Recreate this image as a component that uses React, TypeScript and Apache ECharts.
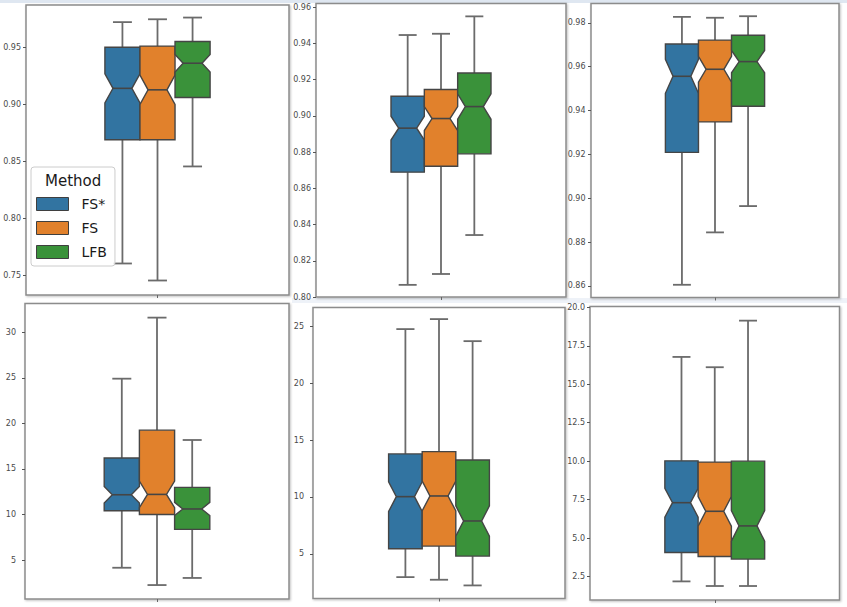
import React, { useEffect, useRef } from 'react';
import * as echarts from 'echarts';

const METHODS = ['FS*', 'FS', 'LFB'];
const COLORS = ['#3274a1', '#e1812c', '#3a923a'];
const CATEGORY = [''];

// each row: [lower whisker, Q1, median, Q3, upper whisker] for FS*, FS, LFB
const PANEL1 = [
  [0.7606, 0.869, 0.914, 0.95, 0.972],
  [0.7457, 0.869, 0.9127, 0.951, 0.9745],
  [0.8456, 0.906, 0.936, 0.955, 0.976],
];
const PANEL2 = [
  [0.8067, 0.8689, 0.8932, 0.9108, 0.9446],
  [0.8127, 0.8722, 0.8985, 0.9145, 0.9453],
  [0.8342, 0.879, 0.9051, 0.9236, 0.9549],
];
const PANEL3 = [
  [0.8605, 0.9209, 0.9556, 0.9703, 0.9827],
  [0.8844, 0.9348, 0.9588, 0.9721, 0.9823],
  [0.8964, 0.9419, 0.9623, 0.9743, 0.983],
];
const PANEL4 = [
  [4.15, 10.4, 12.16, 16.2, 24.9],
  [2.25, 10.0, 12.2, 19.25, 31.6],
  [3.03, 8.36, 10.6, 12.97, 18.17],
];
const PANEL5 = [
  [2.95, 5.45, 10.03, 13.79, 24.77],
  [2.72, 5.68, 10.09, 13.99, 25.65],
  [2.22, 4.8, 7.89, 13.26, 23.71],
];
const PANEL6 = [
  [2.18, 4.06, 7.3, 10.02, 16.78],
  [1.88, 3.8, 6.74, 9.94, 16.11],
  [1.88, 3.63, 5.79, 10.0, 19.14],
];

const TICKS1 = [0.75, 0.8, 0.85, 0.9, 0.95];
const TICKS2 = [0.8, 0.82, 0.84, 0.86, 0.88, 0.9, 0.92, 0.94, 0.96];
const TICKS3 = [0.86, 0.88, 0.9, 0.92, 0.94, 0.96, 0.98];
const TICKS4 = [5, 10, 15, 20, 25, 30];
const TICKS5 = [5, 10, 15, 20, 25];
const TICKS6 = [2.5, 5, 7.5, 10, 12.5, 15, 17.5, 20];

const Y_MIN = [0.733, 0.8, 0.8547, 0.72, 1.07, 0.97];
const Y_MAX = [0.987, 0.962, 0.9888, 33.15, 26.67, 20.06];
const DECIMALS = [2, 2, 2, 0, 0, 1];

const N_SAMPLES = 100;

export default function App() {
  const ref = useRef<HTMLDivElement>(null);

  useEffect(() => {
    document.body.style.margin = '0';
    const chart = echarts.init(ref.current!, null, { renderer: 'svg' });

    const datasets = [PANEL1, PANEL2, PANEL3, PANEL4, PANEL5, PANEL6];
    const ticks = [TICKS1, TICKS2, TICKS3, TICKS4, TICKS5, TICKS6];
    const grids = [
      { left: 26, top: 5, width: 263, height: 290 },
      { left: 316, top: 3.5, width: 250, height: 293.5 },
      { left: 591, top: 3.5, width: 248, height: 294 },
      { left: 25, top: 303.5, width: 264, height: 295.5 },
      { left: 313, top: 307.5, width: 252, height: 291 },
      { left: 590, top: 306.5, width: 249.5, height: 293.5 },
    ];
    const margins = [5, 5, 5.5, 9, 9, 5];
    const BOX_FRAC = 0.4 / 3;

    const makeRender = (m: number) => (params: any, api: any) => {
      const cat = api.value(0);
      const lo = api.value(1);
      const q1 = api.value(2);
      const med = api.value(3);
      const q3 = api.value(4);
      const hi = api.value(5);
      const band = api.size([1, 0])[0];
      const bw = band * BOX_FRAC;
      const cx = api.coord([cat, med])[0] + (m - 1) * bw;
      const y = (v: number) => api.coord([cat, v])[1];
      const half = (1.57 * (q3 - q1)) / Math.sqrt(N_SAMPLES);
      const yLo = y(lo), yQ1 = y(q1), yMed = y(med), yQ3 = y(q3), yHi = y(hi);
      const yNl = y(med - half), yNh = y(med + half);
      const x0 = cx - bw / 2, x1 = cx + bw / 2;
      const w = bw * 0.27;
      const cw = bw * 0.27;
      const ws = { stroke: '#6b6b6b', lineWidth: 1.8 };
      return {
        type: 'group',
        children: [
          { type: 'line', shape: { x1: cx, y1: yQ3, x2: cx, y2: yHi }, style: ws },
          { type: 'line', shape: { x1: cx, y1: yQ1, x2: cx, y2: yLo }, style: ws },
          { type: 'line', shape: { x1: cx - cw, y1: yHi, x2: cx + cw, y2: yHi }, style: ws },
          { type: 'line', shape: { x1: cx - cw, y1: yLo, x2: cx + cw, y2: yLo }, style: ws },
          {
            type: 'polygon',
            shape: {
              points: [
                [x0, yQ1], [x1, yQ1], [x1, yNl], [cx + w, yMed], [x1, yNh],
                [x1, yQ3], [x0, yQ3], [x0, yNh], [cx - w, yMed], [x0, yNl],
              ],
            },
            style: { fill: COLORS[m], stroke: '#454545', lineWidth: 1.4 },
          },
          { type: 'line', shape: { x1: cx - w, y1: yMed, x2: cx + w, y2: yMed }, style: { stroke: '#454545', lineWidth: 1.6 } },
        ],
      };
    };

    const series: any[] = [];
    datasets.forEach((d, i) => {
      d.forEach((row, m) => {
        series.push({
          type: 'custom',
          name: METHODS[m],
          xAxisIndex: i,
          yAxisIndex: i,
          data: [[0, ...row]],
          encode: { x: 0, y: [1, 2, 3, 4, 5] },
          renderItem: makeRender(m),
          itemStyle: { color: COLORS[m], borderColor: '#3f3f3f', borderWidth: 1 },
          clip: false,
        });
      });
    });

    const option: any = {
      animation: false,
      backgroundColor: '#ffffff',
      textStyle: { fontFamily: 'DejaVu Sans' },
      grid: grids.map((g) => ({
        ...g,
        show: true,
        backgroundColor: '#ffffff',
        borderColor: '#8c8c8c',
        borderWidth: 1.5,
        shadowColor: 'rgba(0,0,0,0.25)',
        shadowBlur: 2,
        shadowOffsetX: 1,
        shadowOffsetY: 1,
      })),
      xAxis: grids.map((_, i) => ({
        type: 'category',
        gridIndex: i,
        data: CATEGORY,
        boundaryGap: true,
        axisLine: { show: false },
        axisTick: { show: true, alignWithLabel: true, length: 3, lineStyle: { color: '#666' } },
        axisLabel: { show: false },
        splitLine: { show: false },
      })),
      yAxis: grids.map((_, i) => ({
        type: 'value',
        gridIndex: i,
        min: Y_MIN[i],
        max: Y_MAX[i],
        axisLine: { show: false },
        splitLine: { show: false },
        axisTick: { show: true, length: 3, customValues: ticks[i], lineStyle: { color: '#555' } },
        axisLabel: {
          show: true,
          customValues: ticks[i],
          margin: margins[i],
          fontSize: 8,
          color: '#4a4a4a',
          fontFamily: 'DejaVu Sans',
          formatter: (v: number) => v.toFixed(DECIMALS[i]),
        },
      })),
      legend: {
        data: METHODS,
        left: 31,
        top: 167,
        orient: 'vertical',
        padding: [30, 8, 7, 5],
        itemWidth: 32,
        itemHeight: 13,
        itemGap: 10,
        icon: 'rect',
        selectedMode: false,
        borderColor: '#cccccc',
        borderWidth: 1,
        borderRadius: 3,
        backgroundColor: 'rgba(255,255,255,0.9)',
        itemStyle: { borderColor: '#3f3f3f', borderWidth: 1 },
        textStyle: { fontSize: 14, fontFamily: 'DejaVu Sans', color: '#1a1a1a', padding: [0, 0, 0, 8] },
      },
      graphic: [
        { type: 'rect', left: 0, top: 0, shape: { width: 847, height: 3 }, style: { fill: '#dfe7f1' }, z: -10 },
        { type: 'rect', left: 292, top: 298, shape: { width: 555, height: 5 }, style: { fill: '#eef2f8' }, z: -10 },
        {
          type: 'text',
          left: 45,
          top: 173,
          z: 100,
          style: { text: 'Method', fontSize: 15, fontFamily: 'DejaVu Sans', fill: '#1a1a1a' },
        },
      ],
      series,
    };

    chart.setOption(option);
    return () => chart.dispose();
  }, []);

  return <div ref={ref} style={{ width: 847, height: 607 }} />;
}
